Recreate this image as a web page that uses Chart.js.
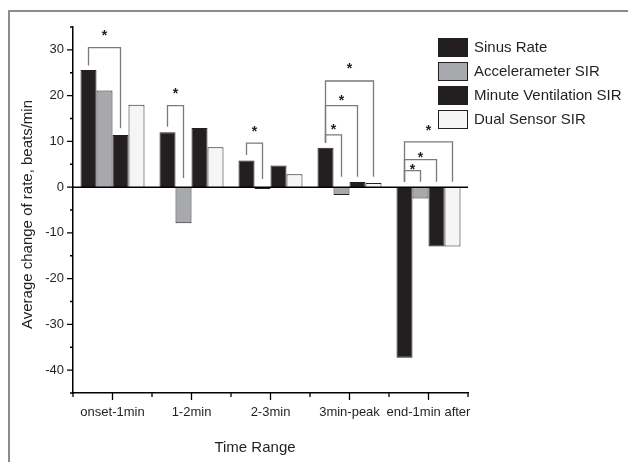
<!DOCTYPE html>
<html>
<head>
<meta charset="utf-8">
<script src="https://cdn.jsdelivr.net/npm/chart.js@4"></script>
<style>
html,body{margin:0;padding:0;background:#fff;}
canvas{display:block;}
</style>
</head>
<body>
<canvas id="c" width="628" height="462"></canvas>
<script>
const categories = ['onset-1min', '1-2min', '2-3min', '3min-peak', 'end-1min after'];
const seriesNames = ['Sinus Rate', 'Accelerameter SIR', 'Minute Ventilation SIR', 'Dual Sensor SIR'];
const sinusRate = [25.6, 12.0, 5.8, 8.6, -37.3];
const accelSIR = [21.1, -7.9, -0.4, -1.7, -2.5];
const mvSIR = [11.4, 12.9, 4.7, 1.1, -13.0];
const dualSIR = [18.0, 8.7, 2.8, 0.9, -13.0];
const yTickValues = [-40, -30, -20, -10, 0, 10, 20, 30];
const yMinorTicks = [-45, -35, -25, -15, -5, 5, 15, 25, 35];
const yMin = -45, yMax = 35;

// significance brackets (group index, from bar, to bar, heights in data units)
const bracketGroup = [0, 1, 2, 3, 3, 3, 4, 4, 4];
const bracketFrom = [0, 0, 0, 0, 0, 0, 0, 0, 0];
const bracketTo = [2, 1, 1, 1, 2, 3, 1, 2, 3];
const bracketHeight = [30.5, 17.8, 9.6, 11.4, 17.8, 23.2, 3.6, 6.0, 9.9];
const bracketLeftEnd = [26.6, 13.2, 7.0, 9.7, 9.7, 9.7, 1.15, 1.15, 1.15];
const bracketRightEnd = [12.85, 2.0, 1.75, 2.25, 2.25, 2.25, 1.15, 1.15, 1.15];
const starHeight = [33.8, 21.2, 13.0, 13.3, 19.8, 26.7, 4.6, 7.2, 13.2];

const FONT = "'Liberation Sans', Arial, sans-serif";
const INK = '#231f20';
const fills = ['#231f20', '#a7a9ac', '#231f20', '#f5f5f5'];
const borders = ['#231f20', '#231f20', '#231f20', '#231f20'];

const customPlugin = {
  id: 'custom',
  beforeDraw(chart) {
    const ctx = chart.ctx;
    ctx.save();
    ctx.fillStyle = '#fff';
    ctx.fillRect(0, 0, chart.width, chart.height);
    ctx.strokeStyle = '#8c8c8c';
    ctx.lineWidth = 2;
    ctx.strokeRect(9, 11, 1000, 1000);
    ctx.restore();
  },
  afterDatasetsDraw(chart) {
    const ctx = chart.ctx;
    const xs = chart.scales.x, ys = chart.scales.y;
    const area = chart.chartArea;
    ctx.save();
    // zero line
    ctx.strokeStyle = '#000';
    ctx.lineWidth = 1.5;
    const y0 = ys.getPixelForValue(0);
    ctx.beginPath();
    ctx.moveTo(area.left, y0);
    ctx.lineTo(area.right, y0);
    ctx.stroke();
    // y ticks
    ctx.lineWidth = 1.3;
    ctx.beginPath();
    yTickValues.forEach(v => {
      const p = ys.getPixelForValue(v);
      ctx.moveTo(area.left - 6, p); ctx.lineTo(area.left, p);
    });
    yMinorTicks.forEach(v => {
      const p = ys.getPixelForValue(v);
      ctx.moveTo(area.left - 3, p); ctx.lineTo(area.left, p);
    });
    // x ticks
    categories.forEach((c, i) => {
      const p = xs.getPixelForValue(i);
      ctx.moveTo(p, area.bottom); ctx.lineTo(p, area.bottom + 7);
    });
    for (let i = 0; i <= categories.length; i++) {
      const p = xs.getPixelForValue(i - 0.5);
      ctx.moveTo(p, area.bottom); ctx.lineTo(p, area.bottom + 4);
    }
    ctx.stroke();

    // brackets
    ctx.strokeStyle = '#7a7a7a';
    ctx.lineWidth = 1.3;
    ctx.fillStyle = INK;
    ctx.font = 'bold 14px ' + FONT;
    ctx.textAlign = 'center';
    ctx.textBaseline = 'alphabetic';
    bracketGroup.forEach((g, k) => {
      const xa = chart.getDatasetMeta(bracketFrom[k]).data[g].x;
      const xb = chart.getDatasetMeta(bracketTo[k]).data[g].x;
      const yh = ys.getPixelForValue(bracketHeight[k]);
      const yl = ys.getPixelForValue(bracketLeftEnd[k]);
      const yr = ys.getPixelForValue(bracketRightEnd[k]);
      ctx.beginPath();
      ctx.moveTo(xa, yl); ctx.lineTo(xa, yh); ctx.lineTo(xb, yh); ctx.lineTo(xb, yr);
      ctx.stroke();
      const ys2 = ys.getPixelForValue(starHeight[k]);
      ctx.fillText('*', (xa + xb) / 2, ys2 + 8);
    });

    // legend
    ctx.font = '15px ' + FONT;
    ctx.textAlign = 'left';
    ctx.textBaseline = 'middle';
    chart.data.datasets.forEach((ds, i) => {
      const bx = 438.5, by = 38.5 + 24 * i;
      ctx.fillStyle = ds.backgroundColor;
      ctx.fillRect(bx, by, 29, 18);
      ctx.strokeStyle = INK;
      ctx.lineWidth = 1;
      ctx.strokeRect(bx, by, 29, 18);
      ctx.fillStyle = INK;
      ctx.fillText(ds.label, 474, by + 9.5);
    });

    // axis titles
    ctx.font = '15px ' + FONT;
    ctx.fillStyle = INK;
    ctx.textAlign = 'center';
    ctx.textBaseline = 'middle';
    ctx.fillText('Time Range', 255, 448);
    ctx.save();
    ctx.translate(28, 214.5);
    ctx.rotate(-Math.PI / 2);
    ctx.fillText('Average change of rate, beats/min', 0, 0);
    ctx.restore();
    ctx.restore();
  }
};

const seriesData = [sinusRate, accelSIR, mvSIR, dualSIR];
new Chart(document.getElementById('c'), {
  type: 'bar',
  data: {
    labels: categories,
    datasets: seriesNames.map((n, i) => ({
      label: n,
      data: seriesData[i],
      backgroundColor: fills[i],
      borderColor: borders[i],
      borderWidth: 1,
      categoryPercentage: 0.81,
      barPercentage: 1.0
    }))
  },
  options: {
    responsive: false,
    animation: false,
    devicePixelRatio: 1,
    layout: { padding: { left: 0, right: 160, top: 27, bottom: 39 } },
    plugins: { legend: { display: false }, tooltip: { enabled: false } },
    scales: {
      x: {
        type: 'category',
        offset: true,
        grid: { display: false, drawTicks: false },
        border: { display: true, color: '#000', width: 1.5 },
        ticks: { color: INK, font: { family: FONT, size: 13 }, padding: 12, maxRotation: 0, autoSkip: false },
        afterFit(s) { s.height = 30; }
      },
      y: {
        min: yMin, max: yMax,
        grid: { display: false, drawTicks: false },
        border: { display: true, color: '#000', width: 1.5 },
        afterBuildTicks(s) { s.ticks = yTickValues.map(v => ({ value: v })); },
        ticks: { color: INK, font: { family: FONT, size: 13 }, padding: 9 },
        afterFit(s) { s.width = 73; }
      }
    }
  },
  plugins: [customPlugin]
});
</script>
</body>
</html>
